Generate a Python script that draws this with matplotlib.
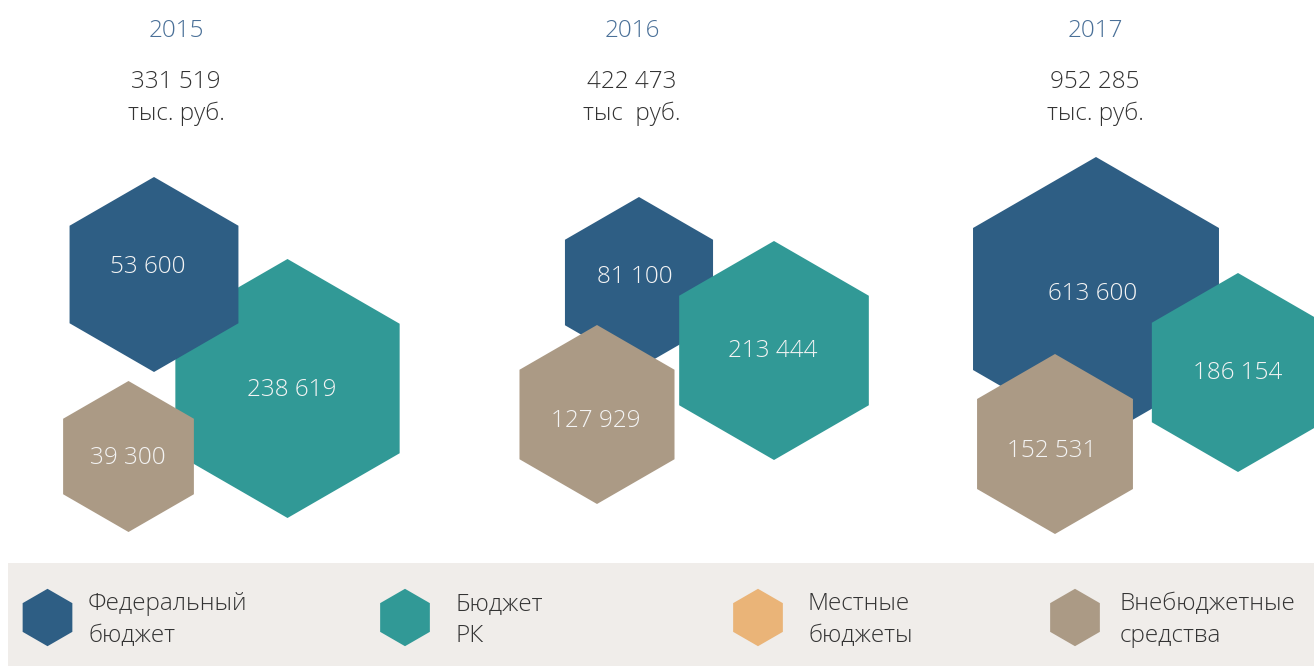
import numpy as np
import matplotlib.pyplot as plt
from matplotlib.patches import RegularPolygon, Rectangle

plt.rcParams['font.family'] = ['Open Sans', 'DejaVu Sans']

# data
years = ['2015', '2016', '2017']
totals = ['331 519', '422 473', '952 285']
units = ['тыс. руб.', 'тыс  руб.', 'тыс. руб.']
federal = [53600, 81100, 613600]
budget_rk = [238619, 213444, 186154]
offbudget = [39300, 127929, 152531]
legend_labels = ['Федеральный\nбюджет', 'Бюджет\nРК', 'Местные\nбюджеты', 'Внебюджетные\nсредства']

# colors
C_FED = '#2e5e84'
C_RK = '#319996'
C_LOC = '#eab478'
C_OFF = '#ab9a85'
C_YEAR = '#4a7098'
C_TEXT = '#333333'
FS = 17.5

# layout (pixels): hexagon centre x, centre y, radius, label x, label y
year_x = [176, 632, 1095]
hex_fed = [(154, 274.5, 97.5, 148, 267), (639, 282.5, 85.5, 635, 277), (1096, 299, 142, 1093, 294)]
hex_rk = [(287.5, 388.5, 129.5, 292, 390), (774, 350.5, 109.5, 773, 351), (1238, 372.5, 99.5, 1238, 373)]
hex_off = [(128.5, 456.5, 75.5, 128, 458), (597, 414.5, 89.5, 596, 421), (1055, 444, 90, 1052, 451)]

W, H = 1314, 666
fig = plt.figure(figsize=(W / 100, H / 100), dpi=100)
ax = fig.add_axes([0, 0, 1, 1])
ax.set_xlim(0, W)
ax.set_ylim(H, 0)
ax.axis('off')


def fmt(v):
    return f'{v:,}'.replace(',', ' ')


def hexagon(x, y, r, color, z):
    ax.add_patch(RegularPolygon((x, y), 6, radius=r, orientation=0,
                                facecolor=color, edgecolor='none', zorder=z))


for i in range(len(years)):
    ax.text(year_x[i], 37, years[i], color=C_YEAR, fontsize=FS, fontweight='light',
            ha='center', va='baseline')
    ax.text(year_x[i], 88, totals[i], color=C_TEXT, fontsize=FS, fontweight='light',
            ha='center', va='baseline')
    ax.text(year_x[i], 120, units[i], color=C_TEXT, fontsize=FS, fontweight='light',
            ha='center', va='baseline')

    # 2015: teal under the federal one
    z_fed, z_rk = (3, 2) if i == 0 else (2, 3)
    groups = [(hex_fed[i], federal[i], C_FED, z_fed),
              (hex_rk[i], budget_rk[i], C_RK, z_rk),
              (hex_off[i], offbudget[i], C_OFF, 4)]
    for (cx, cy, r, lx, ly), val, col, z in groups:
        hexagon(cx, cy, r, col, z)
        ax.text(lx, ly, fmt(val), color='#f4f4f4', fontsize=FS, fontweight='light',
                ha='center', va='center', zorder=z + 0.5)

# legend band
ax.add_patch(Rectangle((8, 563), W - 8, H - 563, facecolor='#f0edea', edgecolor='none', zorder=0))
leg_colors = [C_FED, C_RK, C_LOC, C_OFF]
leg_hex_x = [47.5, 405, 758, 1075]
leg_text_x = [88, 455, 808, 1120]
for col, hx, tx, lab in zip(leg_colors, leg_hex_x, leg_text_x, legend_labels):
    hexagon(hx, 617.5, 28.7, col, 1)
    line1, line2 = lab.split('\n')
    ax.text(tx, 604, line1, color=C_TEXT, fontsize=FS, fontweight='light', ha='left', va='center')
    ax.text(tx, 636, line2, color=C_TEXT, fontsize=FS, fontweight='light', ha='left', va='center')

fig.savefig('out.png', dpi=100)
